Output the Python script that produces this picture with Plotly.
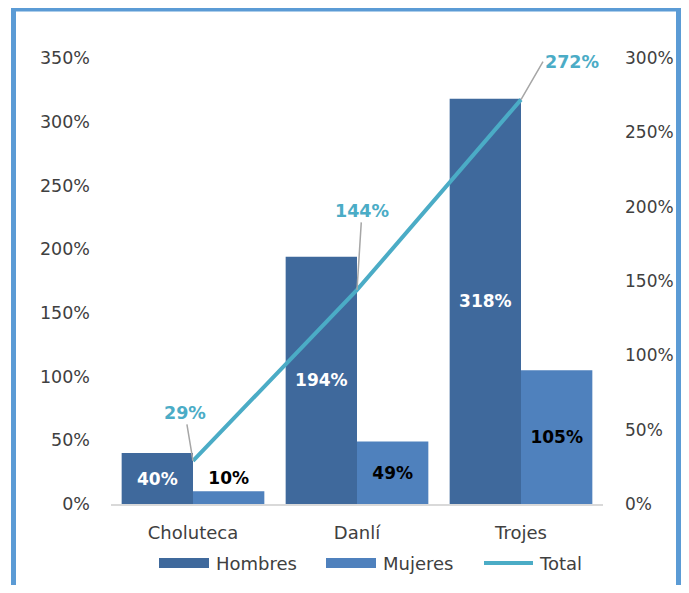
import plotly.graph_objs as go

categorias = ["Choluteca", "Danlí", "Trojes"]
hombres = [40, 194, 318]
mujeres = [10, 49, 105]
total = [29, 144, 272]

left_ticks = [0, 50, 100, 150, 200, 250, 300, 350]
right_ticks = [0, 50, 100, 150, 200, 250, 300]

C_HOM = "#3F699C"
C_MUJ = "#4F81BD"
C_TOT = "#4BACC6"
C_TXT = "#404040"
FONT = "DejaVu Sans"

# the page puts the figure 8px in from the top-left corner
OFF = 8
W, H = 689 - 2 * OFF, 593 - 2 * OFF
# plot area in screen pixels
L, R, T, B = 111, 603, 58, 504


def px(x):
    return (x - L) / (R - L)


def py(y):
    return (B - y) / (B - T)


fig = go.Figure()

fig.add_trace(go.Bar(
    x=categorias, y=hombres, name="Hombres", marker=dict(color=C_HOM, line=dict(width=0)),
    text=[f"{v}%" for v in hombres], textposition="inside", insidetextanchor="middle",
    textfont=dict(family=FONT, size=17, color="white", weight="bold"),
    constraintext="none", showlegend=False
))
fig.add_trace(go.Bar(
    x=categorias, y=mujeres, name="Mujeres", marker=dict(color=C_MUJ, line=dict(width=0)),
    text=[f"{v}%" for v in mujeres], textposition=["outside", "inside", "inside"],
    insidetextanchor="middle",
    textfont=dict(family=FONT, size=17, color="black", weight="bold"),
    constraintext="none", cliponaxis=False, showlegend=False
))
fig.add_trace(go.Scatter(
    x=categorias, y=total, name="Total", yaxis="y2", mode="lines",
    line=dict(color=C_TOT, width=4), showlegend=False
))

# etiquetas de la linea total
offsets = [(-8, -48, "center"), (5, -79, "center"), (22, -38, "left")]
for cat, v, (ax, ay, anc) in zip(categorias, total, offsets):
    fig.add_annotation(
        x=cat, y=v, xref="x", yref="y2", text=f"{v}%", showarrow=True,
        arrowhead=0, arrowwidth=1.5, arrowcolor="#A6A6A6", ax=ax, ay=ay,
        xanchor=anc, standoff=0,
        font=dict(family=FONT, size=17.5, color=C_TOT, weight="bold")
    )

# leyenda manual
ly = py(563)
for x0, x1, col, lab, tx in [(159, 209, C_HOM, "Hombres", 214), (326, 376, C_MUJ, "Mujeres", 381)]:
    fig.add_shape(type="rect", xref="paper", yref="paper", x0=px(x0), x1=px(x1),
                  y0=py(568), y1=py(558), fillcolor=col, line=dict(width=0))
    fig.add_annotation(xref="paper", yref="paper", x=px(tx), y=ly, text=lab, showarrow=False,
                       xanchor="left", yanchor="middle", font=dict(family=FONT, size=18, color=C_TXT))
fig.add_shape(type="line", xref="paper", yref="paper", x0=px(484), x1=px(533), y0=ly, y1=ly,
              line=dict(color=C_TOT, width=4))
fig.add_annotation(xref="paper", yref="paper", x=px(537), y=ly, text="Total", showarrow=False,
                   xanchor="left", yanchor="middle", font=dict(family=FONT, size=18, color=C_TXT))

# marco azul
fig.add_shape(type="rect", xref="paper", yref="paper", x0=px(13.5), x1=px(678.5),
              y0=py(620), y1=py(9), line=dict(color="#5B9BD5", width=5), layer="above")

fig.update_layout(
    width=W, height=H,
    margin=dict(l=L - OFF, r=W - (R - OFF), t=T - OFF, b=H - (B - OFF)),
    paper_bgcolor="white", plot_bgcolor="white",
    barmode="group", bargap=0.13, bargroupgap=0,
    showlegend=False,
    font=dict(family=FONT, size=17, color=C_TXT),
    xaxis=dict(showline=True, linecolor="#D9D9D9", linewidth=1.5, showgrid=False,
               ticks="", ticklabelstandoff=12, automargin=False,
               tickfont=dict(size=18, color=C_TXT)),
    yaxis=dict(range=[0, 350], tickvals=left_ticks, ticktext=[f"{t}%" for t in left_ticks],
               showgrid=False, zeroline=False, showline=False, ticks="", automargin=False,
               ticklabelstandoff=20, tickfont=dict(size=17.5, color=C_TXT)),
    yaxis2=dict(range=[0, 300], tickvals=right_ticks, ticktext=[f"{t}%" for t in right_ticks],
                overlaying="y", side="right", showgrid=False, zeroline=False, showline=False,
                ticks="", ticklabelstandoff=21, automargin=False,
                tickfont=dict(size=17, color=C_TXT)),
)

fig.write_html("out.html")
